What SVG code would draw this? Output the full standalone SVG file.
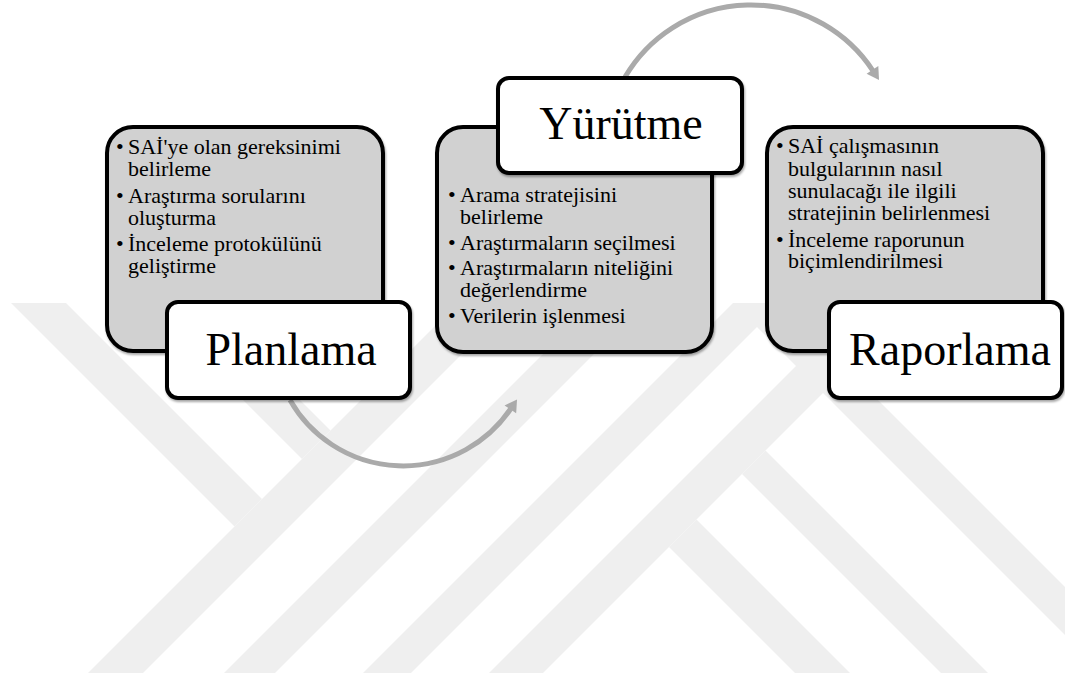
<svg xmlns="http://www.w3.org/2000/svg" width="1065" height="673" viewBox="0 0 1065 673">
  <style>
    .wm { fill: #efefef; stroke: none; }
    .panel { fill: #d1d1d1; stroke: #000; stroke-width: 4; filter: url(#sh); }
    .label { fill: #fff; stroke: #000; stroke-width: 4; filter: url(#sh); }
    .item { font-family: "Liberation Serif", "DejaVu Serif", serif; font-size: 22px; fill: #000; }
    .title { font-family: "Liberation Serif", "DejaVu Serif", serif; font-size: 46px; fill: #000; text-anchor: middle; }
    .arc { fill: none; stroke: #aaaaaa; stroke-width: 5; }
  </style>
  <defs>
    <filter id="sh" x="-5%" y="-5%" width="115%" height="115%">
      <feDropShadow dx="1" dy="2" stdDeviation="1" flood-color="#000" flood-opacity="0.35"/>
    </filter>
    <marker id="head" markerUnits="userSpaceOnUse" markerWidth="20" markerHeight="20" viewBox="-2 -10 20 20" refX="0" refY="0" orient="auto">
      <path d="M-1,-7 L11,0 L-1,7 Z" fill="#aaaaaa"/>
    </marker>
  </defs>
  <rect width="1065" height="673" fill="#fff"/>

  <g id="watermark">
    <polygon class="wm" points="11,303 66,303 262,499 234.5,526.5"/>
    <polygon class="wm" points="458,303 513,303 143,673 88,673"/>
    <polygon class="wm" points="146,303 203,303 330.5,430.5 302,459"/>
    <polygon class="wm" points="594,303 645,303 275,673 224,673"/>
    <polygon class="wm" points="733,303 781,303 1065,587 1065,635 757,327 411,673 363,673"/>
    <polygon class="wm" points="859,303 913,303 543,673 489,673"/>
    <polygon class="wm" points="696.5,519.5 850,673 795,673 669,547"/>
    <polygon class="wm" points="765.5,450.5 988,673 941,673 742,474"/>
  </g>

  <g id="connectors">
    <path class="arc" d="M290,400 A130,130 0 0 0 510.9,408.5" marker-end="url(#head)"/>
    <path class="arc" d="M625,77 A146,146 0 0 1 873,70.8" marker-end="url(#head)"/>
  </g>

  <g id="planlama">
    <rect class="panel" x="107" y="127" width="276" height="224" rx="26"/>
    <text class="item" x="116" y="154">•<tspan x="128">SAİ'ye olan gereksinimi</tspan><tspan x="128" dy="22">belirleme</tspan></text>
    <text class="item" x="116" y="203">•<tspan x="128">Araştırma sorularını</tspan><tspan x="128" dy="22">oluşturma</tspan></text>
    <text class="item" x="116" y="251">•<tspan x="128">İnceleme protokülünü</tspan><tspan x="128" dy="22">geliştirme</tspan></text>
    <rect class="label" x="167" y="302" width="243" height="96" rx="11"/>
    <text class="title" x="291" y="365">Planlama</text>
  </g>

  <g id="yurutme">
    <rect class="panel" x="437" y="127" width="275" height="225" rx="26"/>
    <text class="item" x="448" y="202">•<tspan x="460">Arama stratejisini</tspan><tspan x="460" dy="22">belirleme</tspan></text>
    <text class="item" x="448" y="250">•<tspan x="460">Araştırmaların seçilmesi</tspan></text>
    <text class="item" x="448" y="275">•<tspan x="460">Araştırmaların niteliğini</tspan><tspan x="460" dy="22">değerlendirme</tspan></text>
    <text class="item" x="448" y="323">•<tspan x="460">Verilerin işlenmesi</tspan></text>
    <rect class="label" x="498" y="78" width="244" height="95" rx="11"/>
    <text class="title" x="621" y="139">Yürütme</text>
  </g>

  <g id="raporlama">
    <rect class="panel" x="767" y="127" width="276" height="224" rx="26"/>
    <text class="item" x="776" y="153">•<tspan x="788">SAİ çalışmasının</tspan><tspan x="788" dy="23">bulgularının nasıl</tspan><tspan x="788" dy="22">sunulacağı ile ilgili</tspan><tspan x="788" dy="22">stratejinin belirlenmesi</tspan></text>
    <text class="item" x="776" y="247">•<tspan x="788">İnceleme raporunun</tspan><tspan x="788" dy="21">biçimlendirilmesi</tspan></text>
    <rect class="label" x="829" y="302" width="233" height="96" rx="11"/>
    <text class="title" x="950" y="365">Raporlama</text>
  </g>
</svg>
